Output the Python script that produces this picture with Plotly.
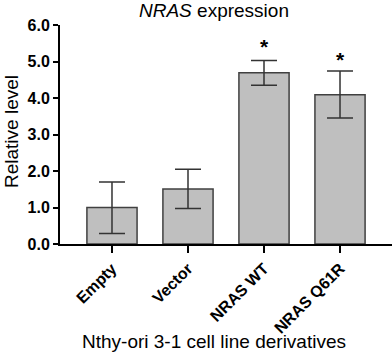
import plotly.graph_objects as go

categories = ["Empty", "Vector", "NRAS WT", "NRAS Q61R"]
values = [1.0, 1.51, 4.69, 4.09]
err_plus = [0.70, 0.54, 0.34, 0.65]
err_minus = [0.71, 0.54, 0.34, 0.64]
sig_labels = ["", "", "*", "*"]
sig_y = [None, None, 5.4, 5.05]
y_ticks = [0, 1, 2, 3, 4, 5, 6]

font = "Liberation Sans, Arial, sans-serif"

fig = go.Figure()
fig.add_trace(go.Bar(
    x=list(range(len(categories))), y=values,
    width=0.66,
    marker=dict(color="#bfbfbf", line=dict(color="#404040", width=1.5)),
    error_y=dict(type="data", symmetric=False, array=err_plus, arrayminus=err_minus,
                 color="#333333", thickness=1.5, width=13),
))
for i, (lab, yy) in enumerate(zip(sig_labels, sig_y)):
    if lab:
        fig.add_annotation(x=i, y=yy, text="<b>*</b>", showarrow=False,
                           font=dict(size=21, color="black", family=font))

fig.add_annotation(xref="paper", yref="paper", x=(214 - 60) / 332, y=1 + (25 - 11) / 219,
                   text="<i>NRAS</i> expression", showarrow=False,
                   font=dict(size=19, family=font, color="black"), yanchor="middle")
fig.add_annotation(xref="paper", yref="paper", x=(214 - 60) / 332, y=-(342 - 244) / 219,
                   text="Nthy-ori 3-1 cell line derivatives", showarrow=False,
                   font=dict(size=19, family=font, color="black"), yanchor="middle")
fig.add_annotation(xref="paper", yref="paper", x=-(60 - 11) / 332, y=(244 - 132) / 219,
                   text="Relative level", showarrow=False, textangle=-90,
                   font=dict(size=19, family=font, color="black"), xanchor="center", yanchor="middle")

fig.update_layout(
    width=392, height=355,
    margin=dict(l=60, r=0, t=25, b=111),
    plot_bgcolor="white", paper_bgcolor="white",
    showlegend=False, hovermode=False,
    font=dict(family=font, color="black"),
)
fig.update_xaxes(
    range=[-0.684, 3.684], tickmode="array", tickvals=list(range(len(categories))),
    ticktext=[f"<b>{c}</b>" for c in categories], tickangle=-45,
    tickfont=dict(size=16, family=font, color="black"),
    showline=True, linecolor="black", linewidth=2, ticks="outside", ticklen=7, tickwidth=2,
    tickcolor="black", showgrid=False, zeroline=False, automargin=False,
)
fig.update_yaxes(
    range=[0, 6], tickmode="array", tickvals=y_ticks,
    ticktext=[f"<b>{t:.1f}</b>" for t in y_ticks],
    tickfont=dict(size=16, family=font, color="black"),
    showline=True, linecolor="black", linewidth=2, ticks="outside", ticklen=5, tickwidth=2,
    tickcolor="black", showgrid=False, zeroline=False, automargin=False,
)
fig.write_html("out.html", config={"displayModeBar": False},
               post_script="document.body.style.margin='0';")
